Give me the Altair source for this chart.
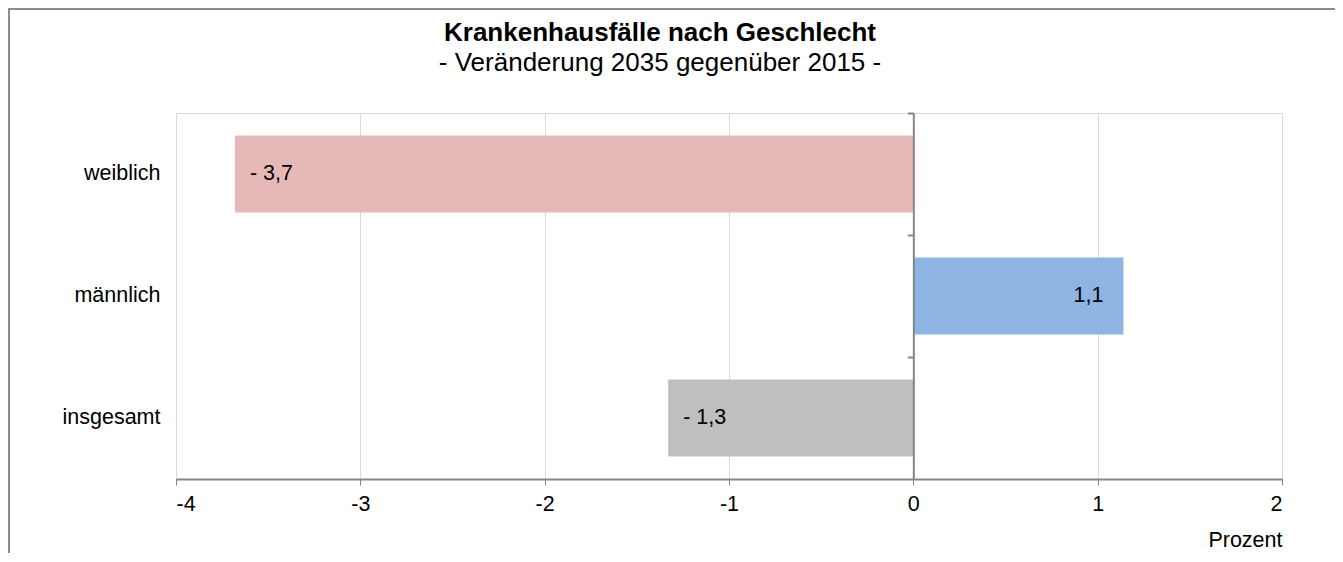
import altair as alt
import pandas as pd

categories = ["weiblich", "männlich", "insgesamt"]
values = [-3.68, 1.14, -1.33]
labels = ["- 3,7", "1,1", "- 1,3"]
colors = ["#E6B9B8", "#8EB4E3", "#BFBFBF"]
x_ticks = [-4, -3, -2, -1, 0, 1, 2]

df = pd.DataFrame({"cat": categories, "val": values, "label": labels, "color": colors})

FONT = "Liberation Sans"
FS = 21.5
TFS = 26
W, H = 1106, 366
AXIS_GRAY = "#868686"

yscale = alt.Scale(domain=categories, paddingInner=0.37, paddingOuter=0.185)
xscale = alt.Scale(domain=[-4, 2], nice=False, zero=True)

x_axis = alt.Axis(
    values=x_ticks,
    labelExpr="datum.value < 0 ? '-' + abs(datum.value) : '' + datum.value",
    grid=True, gridColor="#D9D9D9", gridWidth=1,
    domainColor=AXIS_GRAY, domainWidth=2,
    tickColor=AXIS_GRAY, tickSize=6, tickWidth=1,
    labelFontSize=FS, labelFont=FONT, labelColor="black", labelPadding=8,
    title="Prozent", titleFont=FONT, titleFontSize=FS, titleFontWeight="normal",
    titleColor="black", titleAnchor="end", titleAlign="right", titlePadding=15,
)
x_enc = alt.X("val:Q", scale=xscale, axis=x_axis)

base = alt.Chart(df)

bars = base.mark_bar().encode(
    x=x_enc,
    y=alt.Y("cat:N", scale=yscale, sort=categories,
            axis=alt.Axis(title=None, domain=False, ticks=False, grid=False,
                          labelFontSize=FS, labelFont=FONT, labelColor="black",
                          labelPadding=16)),
    color=alt.Color("color:N", scale=None),
)

zero_axis = base.mark_bar(opacity=0).encode(
    x=x_enc,
    y=alt.Y("cat:N", scale=yscale, sort=categories,
            axis=alt.Axis(orient="left", offset=-(W * 4 / 6), title=None, labels=False,
                          grid=False, domain=True, domainColor=AXIS_GRAY, domainWidth=2,
                          ticks=True, tickOffset=-H / 6, tickColor=AXIS_GRAY,
                          tickSize=6, tickWidth=2, zindex=1)),
)

neg_text = base.transform_filter("datum.val < 0").mark_text(
    align="left", baseline="middle", dx=15, font=FONT, fontSize=FS, color="black"
).encode(
    x=x_enc,
    y=alt.Y("cat:N", scale=yscale, sort=categories, axis=None),
    text="label:N",
)

pos_text = base.transform_filter("datum.val >= 0").mark_text(
    align="right", baseline="middle", dx=-20, font=FONT, fontSize=FS, color="black"
).encode(
    x=x_enc,
    y=alt.Y("cat:N", scale=yscale, sort=categories, axis=None),
    text="label:N",
)

frame = alt.Chart(pd.DataFrame({"k": [0]})).mark_rect(
    fillOpacity=0, stroke="#8C8C8C", strokeWidth=2
).encode(
    x=alt.value(-167), x2=alt.value(1161), y=alt.value(-104), y2=alt.value(600)
)

chart = alt.layer(frame, bars, zero_axis, neg_text, pos_text).resolve_axis(
    y="independent"
).properties(
    width=W, height=H,
    autosize=alt.AutoSizeParams(type="none"),
    padding={"left": 168, "top": 105, "right": 53, "bottom": 74},
    title=alt.TitleParams(
        text="Krankenhausfälle nach Geschlecht",
        subtitle="- Veränderung 2035 gegenüber 2015 -",
        font=FONT, fontSize=TFS, fontWeight="bold", color="black",
        subtitleFont=FONT, subtitleFontSize=TFS, subtitleColor="black",
        subtitlePadding=4, anchor="middle", frame="group", dx=-69, offset=-68,
    ),
).configure_view(stroke="#D9D9D9", strokeWidth=1)

chart.save("out.html", embed_options={"renderer": "svg", "actions": False})
